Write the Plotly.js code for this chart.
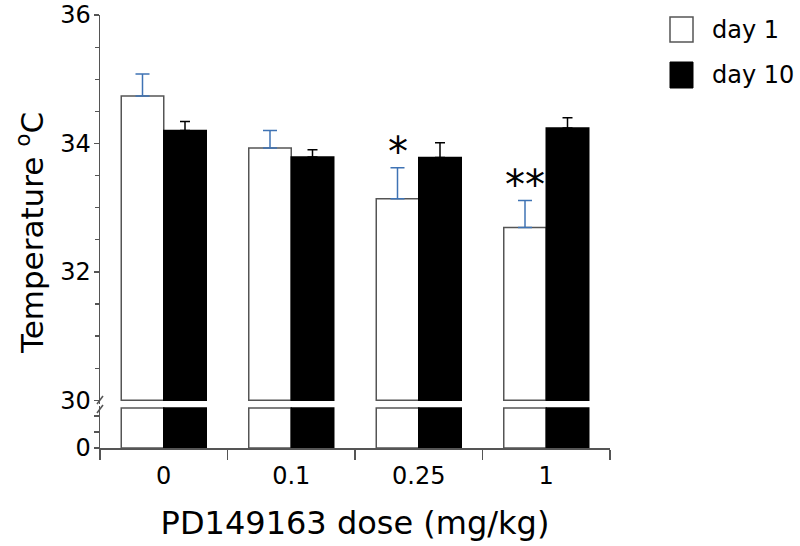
<!DOCTYPE html>
<html>
<head>
<meta charset="utf-8">
<script src="https://cdn.plot.ly/plotly-3.0.1.min.js"></script>
<style>html,body{margin:0;padding:0;background:#fff;}#chart{width:800px;height:546px;}</style>
</head>
<body>
<div id="chart"></div>
<script>
// ---- data ----
const doses = ['0', '0.1', '0.25', '1'];
const seriesNames = ['day 1', 'day 10'];
const day1 = [34.74, 33.93, 33.14, 32.69];
const day1Err = [0.34, 0.27, 0.48, 0.42];
const day10 = [34.20, 33.79, 33.78, 34.24];
const day10Err = [0.14, 0.11, 0.23, 0.16];
const sigMarks = ['', '', '*', '**'];
const upperTicks = [30, 32, 34, 36];
const lowerTicks = [0];
const breakValue = 30;   // axis break: upper panel starts here
const lowerTop = 2.5;    // lower panel shows 0 .. lowerTop

// ---- layout helpers (pixel -> paper) ----
const W = 800, H = 546;
const L = 100, R = 190, T = 15, B = 98;
const PW = W - L - R, PH = H - T - B;
const px = x => (x - L) / PW;
const py = y => (H - B - y) / PH;

const FONT = 'DejaVu Sans, Verdana, sans-serif';
const edge = '#555555';
const blue = '#3f73b4';

function upperTrace(vals, errs, fill, line, errColor, errW, name, og) {
  return {
    type: 'bar', x: doses, y: vals.map(v => v - breakValue), base: breakValue,
    name: name, offsetgroup: og, xaxis: 'x', yaxis: 'y2', showlegend: false,
    marker: {color: fill, line: {color: line, width: 1.5}},
    error_y: {type: 'data', array: errs, arrayminus: errs.map(() => 0), symmetric: false,
              color: errColor, thickness: 1.5, width: errW},
    hoverinfo: 'skip'
  };
}
function lowerTrace(vals, fill, line, name, og) {
  return {
    type: 'bar', x: doses, y: vals.map(v => Math.min(v, lowerTop)),
    name: name, offsetgroup: og, xaxis: 'x', yaxis: 'y', showlegend: false,
    marker: {color: fill, line: {color: line, width: 1.5}},
    hoverinfo: 'skip'
  };
}

const traces = [
  upperTrace(day1, day1Err, '#ffffff', edge, blue, 7, seriesNames[0], 'a'),
  upperTrace(day10, day10Err, '#000000', '#000000', '#000000', 5, seriesNames[1], 'b'),
  lowerTrace(day1, '#ffffff', edge, seriesNames[0], 'a'),
  lowerTrace(day10, '#000000', '#000000', seriesNames[1], 'b')
];

const annotations = [];
sigMarks.forEach((m, i) => {
  if (!m) return;
  annotations.push({
    xref: 'x', yref: 'y2', x: i - 1/6, y: day1[i] + day1Err[i],
    text: m, showarrow: false, yanchor: 'bottom', xanchor: 'center', yshift: -9,
    font: {family: FONT, size: 40, color: '#000'}
  });
});
// y title
annotations.push({
  xref: 'paper', yref: 'paper', x: px(30), y: py(233), textangle: -90,
  text: 'Temperature <sup>o</sup>C', showarrow: false, xanchor: 'center', yanchor: 'middle',
  font: {family: FONT, size: 31, color: '#000'}
});
// legend text
const legendY = [30, 75];
seriesNames.forEach((n, i) => {
  annotations.push({
    xref: 'paper', yref: 'paper', x: px(710), y: py(legendY[i]), text: n, showarrow: false,
    xanchor: 'left', yanchor: 'middle', font: {family: FONT, size: 24, color: '#000'}
  });
});

const shapes = [
  // legend swatches
  {type: 'rect', xref: 'paper', yref: 'paper', x0: px(670), x1: px(693), y0: py(42), y1: py(17),
   fillcolor: '#fff', line: {color: edge, width: 1.5}},
  {type: 'rect', xref: 'paper', yref: 'paper', x0: px(670), x1: px(693), y0: py(88), y1: py(62),
   fillcolor: '#000', line: {color: '#000', width: 1}},
  // axis break marks
  {type: 'line', xref: 'paper', yref: 'paper', x0: px(97), x1: px(103), y0: py(404), y1: py(396),
   line: {color: edge, width: 1.5}},
  {type: 'line', xref: 'paper', yref: 'paper', x0: px(97), x1: px(103), y0: py(413), y1: py(405),
   line: {color: edge, width: 1.5}}
];

const layout = {
  width: W, height: H,
  margin: {l: L, r: R, t: T, b: B},
  paper_bgcolor: '#fff', plot_bgcolor: '#fff',
  barmode: 'group', bargap: 1/3, bargroupgap: 0,
  showlegend: false,
  font: {family: FONT, color: '#000'},
  xaxis: {
    type: 'category', anchor: 'y', range: [-0.5, 3.5],
    showline: true, linecolor: edge, linewidth: 1.5,
    ticks: 'outside', tickson: 'boundaries', ticklen: 10, tickcolor: edge, tickwidth: 1.5,
    ticklabelstandoff: 6,
    tickfont: {family: FONT, size: 24, color: '#000'},
    showgrid: false, zeroline: false,
    title: {text: 'PD149163 dose (mg/kg)', font: {family: FONT, size: 32, color: '#000'}, standoff: 22}
  },
  yaxis: {
    domain: [0, py(406.4)], range: [0, 2.6],
    showline: true, linecolor: edge, linewidth: 1.5,
    ticks: 'outside', ticklen: 5, tickcolor: edge, tickwidth: 1.5,
    tickvals: lowerTicks, ticktext: lowerTicks.map(String),
    ticklabelstandoff: -2,
    minor: {dtick: 1, tick0: 0, ticks: 'outside', ticklen: 5, tickcolor: edge, tickwidth: 1.2},
    tickfont: {family: FONT, size: 24, color: '#000'},
    showgrid: false, zeroline: false
  },
  yaxis2: {
    domain: [py(403.5), 1], range: [29.95, 36], anchor: 'x',
    showline: true, linecolor: edge, linewidth: 1.5,
    ticks: 'outside', ticklen: 5, tickcolor: edge, tickwidth: 1.5,
    tickvals: upperTicks, ticktext: upperTicks.map(String),
    ticklabelstandoff: -2,
    minor: {dtick: 0.5, tick0: 30, ticks: 'outside', ticklen: 4, tickcolor: edge, tickwidth: 1.2},
    tickfont: {family: FONT, size: 24, color: '#000'},
    showgrid: false, zeroline: false
  },
  annotations: annotations,
  shapes: shapes
};

Plotly.newPlot('chart', traces, layout, {displayModeBar: false, staticPlot: true});
</script>
</body>
</html>
